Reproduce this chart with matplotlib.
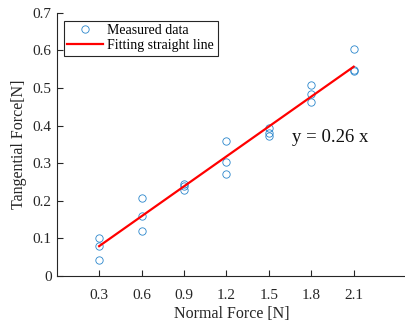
import matplotlib
matplotlib.use("Agg")
import matplotlib.pyplot as plt
import numpy as np

normal_force = [0.3, 0.3, 0.3, 0.6, 0.6, 0.6, 0.9, 0.9, 0.9, 1.2, 1.2, 1.2,
                1.5, 1.5, 1.5, 1.8, 1.8, 1.8, 2.1, 2.1, 2.1]
tangential_force = [0.102, 0.080, 0.043, 0.208, 0.160, 0.121, 0.245, 0.240, 0.229,
                    0.360, 0.303, 0.272, 0.393, 0.381, 0.373, 0.507, 0.484, 0.462,
                    0.604, 0.548, 0.546]
fit_x = [0.3, 2.1]
slope = 0.265
xticks = [0.3, 0.6, 0.9, 1.2, 1.5, 1.8, 2.1]
yticks = [0, 0.1, 0.2, 0.3, 0.4, 0.5, 0.6, 0.7]

plt.rcParams['font.family'] = ['Liberation Serif', 'DejaVu Serif']
plt.rcParams['mathtext.fontset'] = 'stix'

fig = plt.figure(figsize=(4.06, 3.24), dpi=100)
ax = fig.add_axes([0.1397, 0.148, 0.8603, 0.8127])

ax.plot(normal_force, tangential_force, linestyle='none', marker='o', markersize=5.3,
        markerfacecolor='none', markeredgecolor='#2a86cc', markeredgewidth=0.6,
        label='Measured data')
fx = np.array(fit_x)
ax.plot(fx, slope * fx, color='#FF0000', linewidth=1.6, label='Fitting straight line')

ax.text(1.663, 0.367, 'y = 0.26 x', fontsize=13.5, va='center', ha='left', color='#111111')

ax.set_xlim(0, 2.47)
ax.set_ylim(0, 0.7)
ax.set_xticks(xticks)
ax.set_xticklabels([f'{t:.1f}' for t in xticks])
ax.set_yticks(yticks)
ax.set_yticklabels(['0'] + [f'{t:.1f}' for t in yticks[1:]])

for s in ['top', 'right']:
    ax.spines[s].set_visible(False)
for s in ['left', 'bottom']:
    ax.spines[s].set_color('#262626')
    ax.spines[s].set_linewidth(0.8)
ax.tick_params(direction='in', length=4, width=0.8, colors='#262626', labelsize=11,
               labelcolor='#262626')
ax.tick_params(axis='x', pad=9)

ax.set_xlabel('Normal Force [N]', fontsize=11.5, color='#262626', labelpad=3)
ax.set_ylabel('Tangential Force[N]', fontsize=11.5, color='#262626', labelpad=4)

leg = ax.legend(loc='upper left', bbox_to_anchor=(0.02, 0.97), fontsize=10,
                frameon=True, fancybox=False, edgecolor='#262626', framealpha=1,
                borderpad=0.25, labelspacing=0.15, handlelength=2.6, handletextpad=0.3,
                borderaxespad=0)
leg.get_frame().set_linewidth(0.8)

fig.savefig('out.png', dpi=100)
